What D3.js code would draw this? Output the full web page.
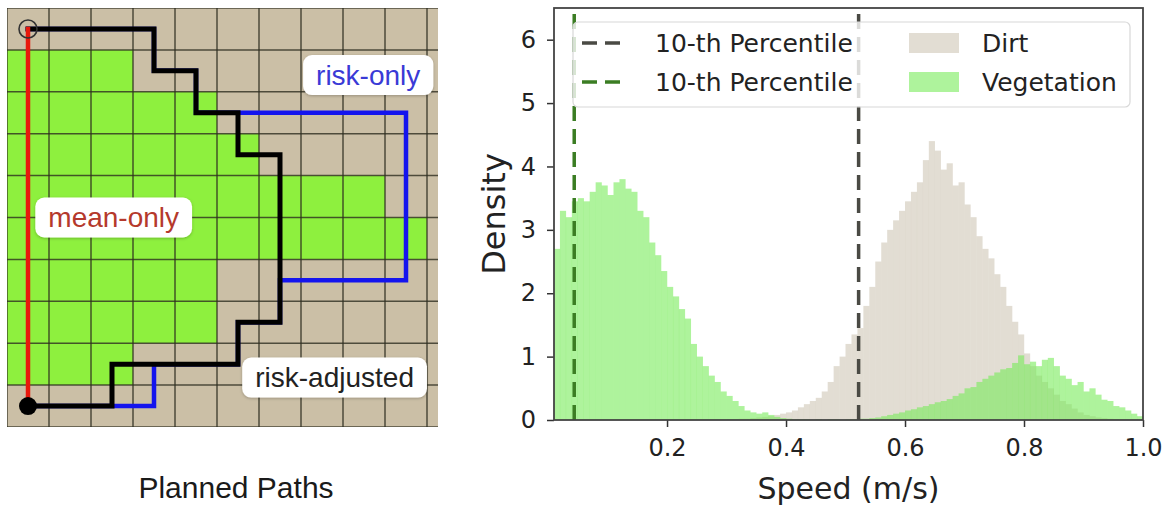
<!DOCTYPE html>
<html>
<head>
<meta charset="utf-8">
<script src="https://cdn.jsdelivr.net/npm/d3@7"></script>
<style>
  body { margin: 0; background: #fff; }
  .tick text { font-family: "DejaVu Sans", sans-serif; fill: #222; }
</style>
</head>
<body>
<svg id="fig" width="1166" height="507"></svg>
<script>
// ---- left panel: planned paths on a terrain grid ----
const gridCols = 11, gridRows = 10;
const greenRun = [0, 3, 5, 6, 9, 10, 5, 5, 3, 0];   // green cells counted from the left, per row
const pathRiskOnly = [[0,0],[3,0],[3,1],[4,1],[4,2],[9,2],[9,6],[6,6],[6,7],[5,7],[5,8],[3,8],[3,9],[0,9]];
const pathRiskAdj  = [[0,0],[3,0],[3,1],[4,1],[4,2],[5,2],[5,3],[6,3],[6,7],[5,7],[5,8],[2,8],[2,9],[0,9]];
const pathMeanOnly = [[0,0],[0,9]];
const pathLabels = [
  {text: "risk-only",     gx: 8.6,  gy: 1.6,  color: "#3a3ad6"},
  {text: "mean-only",     gx: 2.54, gy: 5.0,  color: "#b5392c"},
  {text: "risk-adjusted", gx: 7.8,  gy: 8.82, color: "#222"}
];

// ---- right panel: speed histograms ----
const speedBins = [0.01,0.02,0.03,0.04,0.05,0.06,0.07,0.08,0.09,0.10,
  0.11,0.12,0.13,0.14,0.15,0.16,0.17,0.18,0.19,0.20,
  0.21,0.22,0.23,0.24,0.25,0.26,0.27,0.28,0.29,0.30,
  0.31,0.32,0.33,0.34,0.35,0.36,0.37,0.38,0.39,0.40,
  0.41,0.42,0.43,0.44,0.45,0.46,0.47,0.48,0.49,0.50,
  0.51,0.52,0.53,0.54,0.55,0.56,0.57,0.58,0.59,0.60,
  0.61,0.62,0.63,0.64,0.65,0.66,0.67,0.68,0.69,0.70,
  0.71,0.72,0.73,0.74,0.75,0.76,0.77,0.78,0.79,0.80,
  0.81,0.82,0.83,0.84,0.85,0.86,0.87,0.88,0.89,0.90,
  0.91,0.92,0.93,0.94,0.95,0.96,0.97,0.98,0.99];
const binWidth = 0.01;
const dirtDensity = [0,0,0,0,0,0,0,0,0,0,
  0,0,0,0,0,0,0,0,0,0,
  0,0,0,0,0,0,0,0,0,0.01,
  0.01,0.02,0.02,0.03,0.04,0.05,0.06,0.08,0.1,0.12,
  0.15,0.2,0.25,0.3,0.35,0.45,0.6,0.85,1.0,1.2,
  1.35,1.45,1.8,2.1,2.5,2.8,3.0,3.15,3.3,3.45,
  3.6,3.75,4.1,4.4,4.25,3.95,4.05,3.7,3.75,3.4,
  3.2,2.9,2.7,2.55,2.3,2.1,1.8,1.55,1.35,1.05,
  0.85,0.7,0.6,0.5,0.4,0.3,0.25,0.18,0.12,0.08,
  0.06,0.04,0.03,0.02,0.01,0,0,0,0];
const vegDensity = [2.7,3.3,3.2,3.45,3.5,3.45,3.6,3.75,3.7,3.55,
  3.75,3.8,3.65,3.6,3.3,3.2,2.8,2.6,2.35,2.1,
  1.95,1.75,1.6,1.2,1.0,0.85,0.7,0.6,0.45,0.38,
  0.3,0.22,0.15,0.12,0.1,0.12,0.08,0.05,0.03,0.02,
  0.01,0.01,0.01,0,0.01,0,0.01,0.01,0,0.01,
  0.01,0.02,0.02,0.03,0.04,0.06,0.08,0.1,0.12,0.15,
  0.17,0.2,0.22,0.25,0.28,0.3,0.33,0.38,0.42,0.5,
  0.52,0.6,0.65,0.7,0.75,0.8,0.82,0.9,1.02,0.88,
  0.92,0.85,0.95,0.98,0.85,0.7,0.65,0.55,0.6,0.45,
  0.5,0.4,0.32,0.3,0.22,0.2,0.15,0.1,0.06];
const percentiles = [
  {label: "10-th Percentile", value: 0.522, color: "#4a4a44"},
  {label: "10-th Percentile", value: 0.044, color: "#3b7d23"}
];
const seriesNames = ["Dirt", "Vegetation"];
const seriesColors = ["rgba(214,207,192,0.7)", "rgba(120,235,90,0.6)"];
const xTicks = [0.2, 0.4, 0.6, 0.8, 1.0];
const yTicks = [0, 1, 2, 3, 4, 5, 6];

const svg = d3.select("#fig");

// ======== left panel ========
const gx = d3.scaleLinear().domain([0, 10]).range([7, 427]);
const gy = d3.scaleLinear().domain([0, 10]).range([8, 427]);
const cx = c => gx(c + 0.5), cy = r => gy(r + 0.5);

svg.append("defs").append("clipPath").attr("id", "gridclip")
  .append("rect").attr("x", gx(0)).attr("y", gy(0))
  .attr("width", 438 - gx(0)).attr("height", gy(10) - gy(0));
svg.select("defs").append("filter").attr("id", "shadow")
  .attr("x", "-10%").attr("y", "-20%").attr("width", "120%").attr("height", "150%")
  .append("feDropShadow").attr("dx", 0).attr("dy", 1).attr("stdDeviation", 1.5)
  .attr("flood-color", "#000").attr("flood-opacity", 0.25);

const left = svg.append("g").attr("clip-path", "url(#gridclip)");
const cells = [];
d3.range(gridRows).forEach(r => d3.range(gridCols).forEach(c => cells.push({r, c, green: c < greenRun[r]})));
left.selectAll(".cell").data(cells).enter().append("rect")
  .attr("class", "cell")
  .attr("x", d => gx(d.c)).attr("y", d => gy(d.r))
  .attr("width", gx(1) - gx(0) + 0.5).attr("height", gy(1) - gy(0) + 0.5)
  .style("fill", d => d.green ? "#8ef03e" : "#cbbfa6");

left.selectAll(".vline").data(d3.range(gridCols + 1)).enter().append("line")
  .attr("x1", d => gx(d)).attr("x2", d => gx(d))
  .attr("y1", gy(0)).attr("y2", gy(10))
  .style("stroke", "#2e2e20").style("stroke-opacity", 0.8).style("stroke-width", 1.5);
left.selectAll(".hline").data(d3.range(gridRows + 1)).enter().append("line")
  .attr("y1", d => gy(d)).attr("y2", d => gy(d))
  .attr("x1", gx(0)).attr("x2", 438)
  .style("stroke", "#2e2e20").style("stroke-opacity", 0.8).style("stroke-width", 1.5);

const line = d3.line().x(d => cx(d[0])).y(d => cy(d[1]));
[[pathRiskOnly, "#1414ee", 4.5], [pathRiskAdj, "#000", 5], [pathMeanOnly, "#e8180c", 4.5]]
  .forEach(p => {
    left.append("path").datum(p[0]).attr("d", line)
      .style("fill", "none").style("stroke", p[1]).style("stroke-width", p[2])
      .style("stroke-linejoin", "miter").style("stroke-linecap", "square");
  });

left.append("circle").attr("cx", cx(0)).attr("cy", cy(0)).attr("r", 9)
  .style("fill", "none").style("stroke", "#333").style("stroke-width", 1.6);
left.append("circle").attr("cx", cx(0)).attr("cy", cy(9)).attr("r", 9)
  .style("fill", "#000");

pathLabels.forEach(l => {
  const g = svg.append("g");
  const t = g.append("text")
    .attr("x", gx(l.gx)).attr("y", gy(l.gy))
    .attr("text-anchor", "middle").attr("dy", "0.35em")
    .style("font-family", "'Liberation Sans', Arial, sans-serif")
    .style("font-size", "28px").style("fill", l.color)
    .text(l.text);
  const bb = t.node().getBBox();
  g.insert("rect", "text")
    .attr("x", bb.x - 13).attr("y", gy(l.gy) - 20)
    .attr("width", bb.width + 26).attr("height", 40)
    .attr("rx", 9).style("fill", "#fff").attr("filter", "url(#shadow)");
});

svg.append("text")
  .attr("x", 236).attr("y", 498)
  .attr("text-anchor", "middle")
  .style("font-family", "'Liberation Sans', Arial, sans-serif")
  .style("font-size", "30px").style("fill", "#1a1a1a")
  .text("Planned Paths");

// ======== right panel ========
const plot = {L: 554, R: 1143, T: 8, B: 420};
const x = d3.scaleLinear().domain([0.01, 1.0]).range([plot.L, plot.R]);
const y = d3.scaleLinear().domain([0, 6.5]).range([plot.B, plot.T]);

const right = svg.append("g");
[dirtDensity, vegDensity].forEach((series, k) => {
  right.selectAll(".bar" + k).data(speedBins).enter().append("rect")
    .attr("class", "bar" + k)
    .attr("x", (d, i) => x(d))
    .attr("width", d => x(d + binWidth) - x(d) + 0.2)
    .attr("y", (d, i) => y(series[i]))
    .attr("height", (d, i) => y(0) - y(series[i]))
    .style("fill", seriesColors[k]);
});

right.selectAll(".pct").data(percentiles).enter().append("line")
  .attr("x1", d => x(d.value)).attr("x2", d => x(d.value))
  .attr("y1", y(0)).attr("y2", y(6.5))
  .style("stroke", d => d.color).style("stroke-width", 3.5)
  .style("stroke-dasharray", "15,8");

right.append("g")
  .attr("transform", "translate(0," + plot.B + ")")
  .call(d3.axisBottom(x).tickValues(xTicks).tickFormat(d3.format(".1f"))
    .tickSizeInner(7).tickSizeOuter(0).tickPadding(12))
  .call(g => g.select(".domain").remove())
  .call(g => g.selectAll(".tick line").style("stroke", "#333").style("stroke-width", 1.5))
  .call(g => g.selectAll(".tick text").style("font-size", "24px"));

right.append("g")
  .attr("transform", "translate(" + plot.L + ",0)")
  .call(d3.axisLeft(y).tickValues(yTicks).tickFormat(d3.format("d"))
    .tickSizeInner(7).tickSizeOuter(0).tickPadding(11))
  .call(g => g.select(".domain").remove())
  .call(g => g.selectAll(".tick line").style("stroke", "#333").style("stroke-width", 1.5))
  .call(g => g.selectAll(".tick text").style("font-size", "24px"));

right.append("rect")
  .attr("x", plot.L).attr("y", plot.T)
  .attr("width", plot.R - plot.L).attr("height", plot.B - plot.T)
  .style("fill", "none").style("stroke", "#444").style("stroke-width", 1.8);

// legend
const leg = right.append("g");
leg.append("rect")
  .attr("x", 573).attr("y", 22).attr("width", 557).attr("height", 85).attr("rx", 5)
  .style("fill", "#fff").style("fill-opacity", 0.8)
  .style("stroke", "#d8d8d8").style("stroke-width", 1.2);
const rowY = [43, 82];
percentiles.forEach((p, i) => {
  leg.append("line").attr("x1", 582).attr("x2", 628).attr("y1", rowY[i]).attr("y2", rowY[i])
    .style("stroke", p.color).style("stroke-width", 3.5).style("stroke-dasharray", "15,8");
  leg.append("text").attr("x", 655).attr("y", rowY[i]).attr("dy", "0.36em")
    .style("font-family", "'DejaVu Sans', sans-serif").style("font-size", "25px").style("fill", "#222")
    .text(p.label);
});
seriesNames.forEach((n, i) => {
  leg.append("rect").attr("x", 909).attr("y", rowY[i] - 10).attr("width", 50).attr("height", 20)
    .style("fill", seriesColors[i]);
  leg.append("text").attr("x", 982).attr("y", rowY[i]).attr("dy", "0.36em")
    .style("font-family", "'DejaVu Sans', sans-serif").style("font-size", "25px").style("fill", "#222")
    .text(n);
});

// axis labels
svg.append("text")
  .attr("x", (plot.L + plot.R) / 2).attr("y", 499)
  .attr("text-anchor", "middle")
  .style("font-family", "'DejaVu Sans', sans-serif").style("font-size", "30px").style("fill", "#222")
  .text("Speed (m/s)");
svg.append("text")
  .attr("transform", "translate(505," + (plot.T + plot.B) / 2 + ") rotate(-90)")
  .attr("text-anchor", "middle")
  .style("font-family", "'DejaVu Sans', sans-serif").style("font-size", "32px").style("fill", "#222")
  .text("Density");
</script>
</body>
</html>
